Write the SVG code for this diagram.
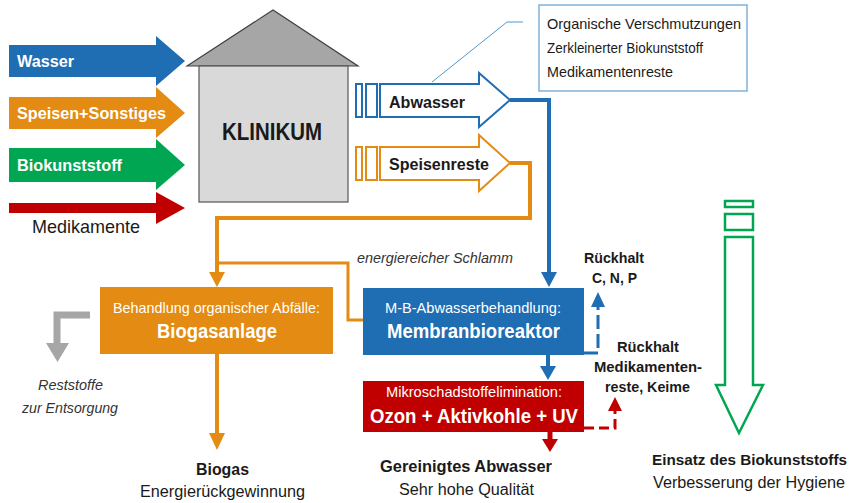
<svg xmlns="http://www.w3.org/2000/svg" width="852" height="503" viewBox="0 0 852 503">
<style>
text{font-family:"Liberation Sans",Arial,sans-serif;fill:#1a1a1a}
.w{fill:#fff}
.b{font-weight:bold}
.i{font-style:italic;fill:#333}
.lbl{font-size:16px;font-weight:bold;fill:#fff}
.blue{fill:#1F6DB2}
.orange{fill:#E38B12}
.green{fill:#00A651}
.red{fill:#C00000}
.lb{stroke:#1F6DB2;fill:none}
.lo{stroke:#E38B12;fill:none}
.lr{stroke:#C00000;fill:none}
</style>
<rect width="852" height="503" fill="#fff"/>

<g id="inputs">
  <g id="in-wasser">
    <polygon class="blue" points="9,45 156,45 156,36 185,61 156,86 156,77 9,77"/>
    <text class="lbl" x="17" y="67" textLength="57" lengthAdjust="spacingAndGlyphs">Wasser</text>
  </g>
  <g id="in-speisen">
    <polygon class="orange" points="9,97 156,97 156,87 185,113 156,138 156,129 9,129"/>
    <text class="lbl" x="17" y="119" textLength="149" lengthAdjust="spacingAndGlyphs">Speisen+Sonstiges</text>
  </g>
  <g id="in-bio">
    <polygon class="green" points="9,148 156,148 156,139 185,165 156,190 156,182 9,182"/>
    <text class="lbl" x="17" y="171" textLength="105" lengthAdjust="spacingAndGlyphs">Biokunststoff</text>
  </g>
  <g id="in-medi">
    <polygon class="red" points="9,203 156,203 156,192 185,208 156,224 156,213 9,213"/>
    <text x="32" y="233" font-size="19" textLength="108" lengthAdjust="spacingAndGlyphs">Medikamente</text>
  </g>
</g>

<g id="klinikum">
  <polygon points="187,66 273,10 358,66" fill="#A6A6A6" stroke="#404040" stroke-width="1.2"/>
  <rect x="199" y="66" width="149" height="136" fill="#D9D9D9" stroke="#555" stroke-width="1.2"/>
  <text class="b" x="222" y="140" font-size="23" textLength="100" lengthAdjust="spacingAndGlyphs">KLINIKUM</text>
</g>

<g id="abwasser">
  <rect x="356" y="84" width="6" height="33" fill="#fff" stroke="#1F6DB2" stroke-width="2"/>
  <rect x="366" y="84" width="11" height="33" fill="#fff" stroke="#1F6DB2" stroke-width="2"/>
  <polygon points="380,84 479,84 479,73 510,100 479,127 479,117 380,117" fill="#fff" stroke="#1F6DB2" stroke-width="2"/>
  <text class="b" x="389" y="108" font-size="17" textLength="76" lengthAdjust="spacingAndGlyphs">Abwasser</text>
</g>

<g id="speisenreste">
  <rect x="356" y="147" width="6" height="33" fill="#fff" stroke="#E38B12" stroke-width="2"/>
  <rect x="366" y="147" width="11" height="33" fill="#fff" stroke="#E38B12" stroke-width="2"/>
  <polygon points="380,147 479,147 479,135 510,163 479,191 479,180 380,180" fill="#fff" stroke="#E38B12" stroke-width="2"/>
  <text class="b" x="389" y="170" font-size="17" textLength="100" lengthAdjust="spacingAndGlyphs">Speisenreste</text>
</g>

<g id="callout">
  <path d="M432,82 L507,22 H523" fill="none" stroke="#4A9AD0" stroke-width="1"/>
  <rect x="539" y="5" width="208" height="86" fill="#fff" stroke="#7FB2DA" stroke-width="1.5"/>
  <text x="547" y="29" font-size="15" textLength="194" lengthAdjust="spacingAndGlyphs">Organische Verschmutzungen</text>
  <text x="547" y="53" font-size="15" textLength="156" lengthAdjust="spacingAndGlyphs">Zerkleinerter Biokunststoff</text>
  <text x="547" y="77" font-size="15" textLength="126" lengthAdjust="spacingAndGlyphs">Medikamentenreste</text>
</g>

<g id="biogasanlage">
  <rect class="orange" x="100" y="287" width="233" height="67"/>
  <text class="w" x="113" y="313" font-size="15" textLength="207" lengthAdjust="spacingAndGlyphs">Behandlung organischer Abfälle:</text>
  <text class="w b" x="157" y="338" font-size="20" textLength="120" lengthAdjust="spacingAndGlyphs">Biogasanlage</text>
</g>

<g id="mbr">
  <rect class="blue" x="363" y="288" width="221" height="67"/>
  <text class="w" x="385" y="313" font-size="15" textLength="176" lengthAdjust="spacingAndGlyphs">M-B-Abwasserbehandlung:</text>
  <text class="w b" x="387" y="338" font-size="20" textLength="173" lengthAdjust="spacingAndGlyphs">Membranbioreaktor</text>
</g>

<g id="mikro">
  <rect class="red" x="363" y="381" width="221" height="51"/>
  <text class="w" x="386" y="397" font-size="15" textLength="176" lengthAdjust="spacingAndGlyphs">Mikroschadstoffelimination:</text>
  <text class="w b" x="370" y="423" font-size="20" textLength="208" lengthAdjust="spacingAndGlyphs">Ozon + Aktivkohle + UV</text>
</g>

<g id="biokunststoff-einsatz">
  <rect x="725" y="201" width="28" height="6" fill="#fff" stroke="#00A651" stroke-width="2.5"/>
  <rect x="725" y="214" width="28" height="16" fill="#fff" stroke="#00A651" stroke-width="2.5"/>
  <polygon points="725,237 753,237 753,385 763,385 739,433 716,385 725,385" fill="#fff" stroke="#00A651" stroke-width="2.5"/>
  <text class="b" x="652" y="465" font-size="15.5" textLength="195" lengthAdjust="spacingAndGlyphs">Einsatz des Biokunststoffs</text>
  <text x="653" y="488" font-size="16" textLength="192" lengthAdjust="spacingAndGlyphs">Verbesserung der Hygiene</text>
</g>

<g id="outputs">
  <text class="b" x="196" y="475" font-size="17" textLength="53" lengthAdjust="spacingAndGlyphs">Biogas</text>
  <text x="140" y="497" font-size="17" textLength="165" lengthAdjust="spacingAndGlyphs">Energierückgewinnung</text>
  <text class="i" x="38" y="390" font-size="15" textLength="65" lengthAdjust="spacingAndGlyphs">Reststoffe</text>
  <text class="i" x="22" y="413" font-size="15" textLength="96" lengthAdjust="spacingAndGlyphs">zur Entsorgung</text>
  <text class="b" x="380" y="472" font-size="17" textLength="172" lengthAdjust="spacingAndGlyphs">Gereinigtes Abwasser</text>
  <text x="399" y="495" font-size="16" textLength="135" lengthAdjust="spacingAndGlyphs">Sehr hohe Qualität</text>
  <text class="b" x="584" y="263" font-size="15" textLength="60" lengthAdjust="spacingAndGlyphs">Rückhalt</text>
  <text class="b" x="592" y="283" font-size="15" textLength="45" lengthAdjust="spacingAndGlyphs">C, N, P</text>
  <text class="b" x="617" y="352" font-size="15" textLength="62" lengthAdjust="spacingAndGlyphs">Rückhalt</text>
  <text class="b" x="594" y="372" font-size="15" textLength="108" lengthAdjust="spacingAndGlyphs">Medikamenten-</text>
  <text class="b" x="605" y="392" font-size="15" textLength="85" lengthAdjust="spacingAndGlyphs">reste, Keime</text>
  <text class="i" x="357" y="263" font-size="15" textLength="156" lengthAdjust="spacingAndGlyphs">energiereicher Schlamm</text>
</g>

<g id="connectors">
  <path class="lb" d="M510,100 H549 V273" stroke-width="4"/>
  <polygon class="blue" points="541,272 557,272 549,287"/>
  <path class="lo" d="M510,163 H530 V218 H217 V273" stroke-width="4"/>
  <polygon class="orange" points="209,272 225,272 217,287"/>
  <path class="lo" d="M217,263 H348 V320 H363" stroke-width="3"/>
  <path d="M90,315 H57 V344" fill="none" stroke="#A6A6A6" stroke-width="7"/>
  <polygon points="46,343 69,343 57.5,362" fill="#A6A6A6"/>
  <path class="lo" d="M217,354 V434" stroke-width="4"/>
  <polygon class="orange" points="209,433 225,433 217,450"/>
  <path class="lb" d="M548,355 V367" stroke-width="4"/>
  <polygon class="blue" points="540,366 556,366 548,380"/>
  <path class="lr" d="M550,432 V440" stroke-width="5"/>
  <polygon class="red" points="542,439 558,439 550,452"/>
  <path class="lb" d="M584,353 H598 V306" stroke-width="3" stroke-dasharray="14,5"/>
  <polygon class="blue" points="591,307 605,307 598,292"/>
  <path class="lr" d="M584,428 H615 V410" stroke-width="3" stroke-dasharray="10,5"/>
  <polygon class="red" points="608,411 622,411 615,397"/>
</g>
</svg>
